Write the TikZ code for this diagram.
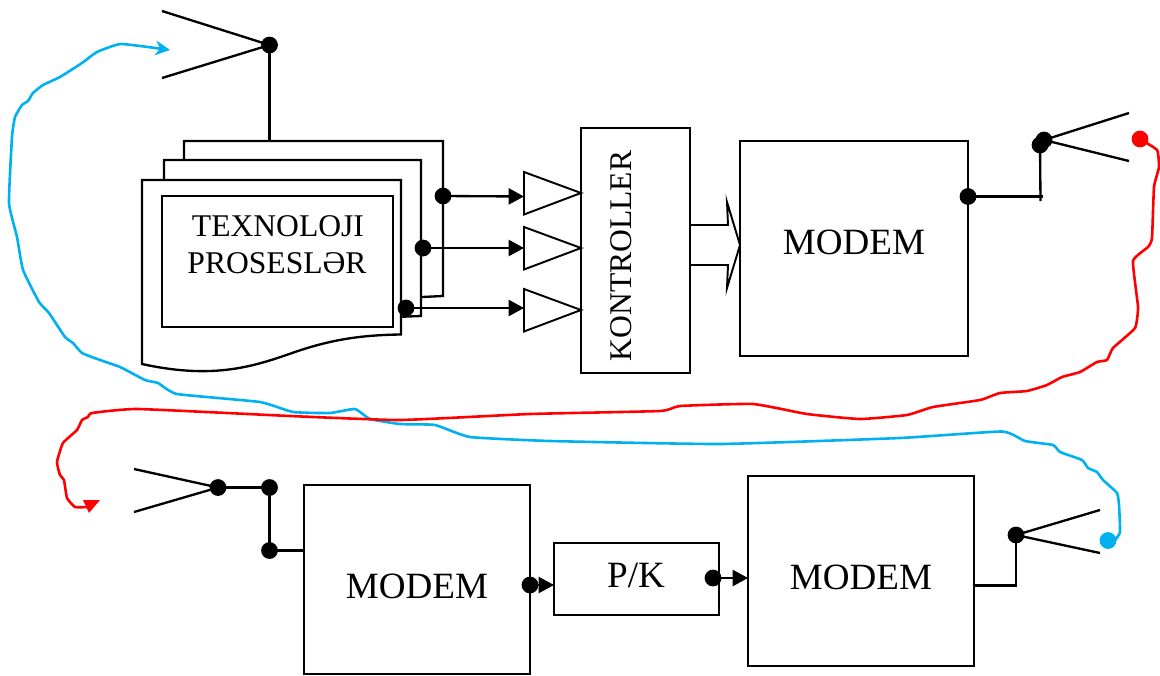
\documentclass[tikz,border=0pt]{standalone}
\usepackage{fontspec}
\setmainfont{Liberation Serif}
\usetikzlibrary{arrows.meta}
\definecolor{cblue}{HTML}{00B0F0}
\definecolor{cred}{HTML}{FF0000}
\tikzset{
  wire/.style={line width=1.75pt,draw=black,line join=miter},
  thinwire/.style={line width=1.45pt,draw=black,line join=miter},
  box/.style={draw=black,line width=1.75pt,fill=white,inner sep=0pt,minimum width=#1},
  tall/.style={minimum height=#1},
  dotn/.style={circle,fill=black,inner sep=0pt,minimum size=12.6pt},
  reddot/.style={circle,fill=cred,inner sep=0pt,minimum size=12.6pt},
  bluedot/.style={circle,fill=cblue,inner sep=0pt,minimum size=12.6pt},
  lab/.style={inner sep=0pt,font=\fontsize{27.8pt}{32pt}\selectfont},
  smalllab/.style={inner sep=0pt,font=\fontsize{23.7pt}{28pt}\selectfont},
  tip/.style={-{Triangle[length=11.5pt,width=12pt]}},
  wander/.style={line width=1.95pt,line join=round,line cap=round}
}
\begin{document}
\begin{tikzpicture}[x=0.75pt,y=-0.75pt]
\useasboundingbox (0,0) rectangle (1160,675);
% process sheets
\draw[wire,fill=white] (184,180) -- (184,141) -- (443,141) -- (443,296) -- (401,298) -- cycle;
\draw[wire,fill=white] (164,200) -- (164,160) -- (421,160) -- (421,316) -- (395,317) -- cycle;
\draw[wire,fill=white] (142,180) -- (401,180) -- (401,334.5)
  .. controls (360,335) and (330,340) .. (295,352)
  .. controls (255,366) and (215,380) .. (142,364) -- cycle;
\node[box=231*0.75pt,tall=131*0.75pt] (proc) at (277.5,261.5) {};
\node[smalllab] (t1) at (278,226) {TEXNOLOJI};
\node[smalllab] (t2) at (277,263) {PROSESLƏR};
% main boxes
\node[box=109*0.75pt,tall=245*0.75pt] (ctrl) at (635.5,250.5) {};
\node[smalllab,rotate=90] (ctrllab) at (621,256) {KONTROLLER};
\node[box=228*0.75pt,tall=215*0.75pt,lab] (m1) at (854,248.5) {};
\node[lab] (m1lab) at (854,242) {MODEM};
\node[box=226*0.75pt,tall=189*0.75pt] (m2) at (417,579.5) {};
\node[lab] (m2lab) at (417,586) {MODEM};
\node[box=165*0.75pt,tall=72*0.75pt] (pk) at (636.5,579) {};
\node[lab] (pklab) at (636,575) {P/K};
\node[box=226*0.75pt,tall=190*0.75pt] (m3) at (861,571) {};
\node[lab] (m3lab) at (861,577) {MODEM};
% amplifier triangles
\coordinate (a1) at (524,196.5);
\coordinate (a2) at (524,248);
\coordinate (a3) at (524,308);
\draw[thinwire] (524,172) -- (524,214.5) -- (581,193) -- cycle;
\draw[thinwire] (524,227) -- (524,269.5) -- (581,248) -- cycle;
\draw[thinwire] (524,289) -- (524,331.5) -- (581,310) -- cycle;
% hollow bus arrow
\draw[thinwire] (690,225) -- (728,225) -- (727,202) -- (740,245) -- (727,288) -- (728,265) -- (690,265);
% dots
\node[dotn] (d1) at (443,196) {};
\node[dotn] (d2) at (423,248) {};
\node[dotn] (d3) at (406,308) {};
\draw[wire,tip] (d1.center) -- (a1);
\draw[wire,tip] (d2.center) -- (a2);
\draw[wire,tip] (d3.center) -- (a3);
% top antenna
\node[dotn] (ant1) at (269.5,45) {};
\coordinate (ant1a) at (162,11);
\coordinate (ant1b) at (162,78);
\coordinate (ant1c) at (269.5,141);
\draw[wire] (ant1a) -- (ant1.center) -- (ant1b);
\draw[wire] (ant1.center) -- (ant1c);
% right antenna
\node[dotn] (m1out) at (968,196.5) {};
\node[dotn] (ant2) at (1044,140) {};
\node[dotn] (ant2s) at (1040,145) {};
\coordinate (ant2a) at (1129,113);
\coordinate (ant2b) at (1129,161);
\coordinate (ant2c) at (1043,196.5);
\coordinate (ant2d) at (1040.5,201);
\draw[wire] (ant2a) -- (ant2.center) -- (ant2b);
\draw[wire] (m1out.center) -- (ant2c);
\draw[wire] (ant2s.center) -- (ant2d);
% lower-left antenna
\node[dotn] (ant3) at (218,487.5) {};
\node[dotn] (j1) at (269.5,487.5) {};
\node[dotn] (j2) at (269.5,550.5) {};
\coordinate (ant3a) at (134,469);
\coordinate (ant3b) at (134,512);
\draw[wire] (ant3a) -- (ant3.center) -- (ant3b);
\draw[wire] (ant3.center) -- (j1.center) -- (j2.center) -- (m2.west |- j2);
% modem to P/K to modem
\node[dotn] (m2o) at (530,585) {};
\coordinate (pkin) at (554,585);
\draw[wire,tip] (m2o.center) -- (pkin);
\node[dotn] (pko) at (713,578) {};
\coordinate (m3in) at (748,578);
\draw[wire,tip] (pko.center) -- (m3in);
% lower-right antenna
\node[dotn] (ant4) at (1016,535) {};
\coordinate (ant4a) at (1100,510);
\coordinate (ant4b) at (1100,553);
\coordinate (m3o) at (974,585.5);
\draw[wire] (ant4a) -- (ant4.center) -- (ant4b);
\draw[wire] (m3o) -- (1016,585.5) -- (ant4.center);
% blue path
\node[bluedot] (bd) at (1108,540.5) {};
\coordinate (ant1in) at (170,50);
\draw[wander,cblue,-{Stealth[length=11pt,width=11pt]}] plot[smooth,tension=0.25] coordinates {
 (1108,540.5) (1115,540) (1120,532) (1119,505) (1117,493) (1103,480) (1097,472) (1088,468) (1082,460) (1060,452) (1053,445) (1025,441) (1002,431.5)
 (900,438) (720,444) (550,441) (470,437) (435,425) (400,424) (370,419) (355,409) (330,413) (293,412) (260,402) (177,394)
 (158,383) (145,380) (120,367) (100,360) (82,353) (73,343) (65,337) (49,313) (39,302) (23,270) (17,237) (9,203) (12,137) (15,117) (22,105) (28,101) (33,93) (43,85) (60,77) (82,63) (97,52) (121,44) (170,50)};
% red path
\node[reddot] (rd) at (1140,139) {};
\coordinate (ant3in) at (89,513);
\draw[wander,cred] plot[smooth,tension=0.25] coordinates {
 (1140,139) (1157,150) (1159,167) (1154,187) (1152,238) (1148,247) (1133,261) (1138,307) (1135,328) (1113,348) (1107,360) (1097,362) (1080,372) (1062,377) (1047,385) (1027,391) (1000,393) (980,400) (933,407) (907,415) (860,419) (807,414) (753,404) (680,406) (660,411) (530,414) (400,420) (290,416) (138,409) (92,413) (88,417) (82,420) (77,430) (63,443) (57,462) (60,475) (64,480) (67,498) (75,507) (87,507)};
\fill[cred] (83,500) -- (100,500) -- (ant3in) -- cycle;
\end{tikzpicture}
\end{document}
